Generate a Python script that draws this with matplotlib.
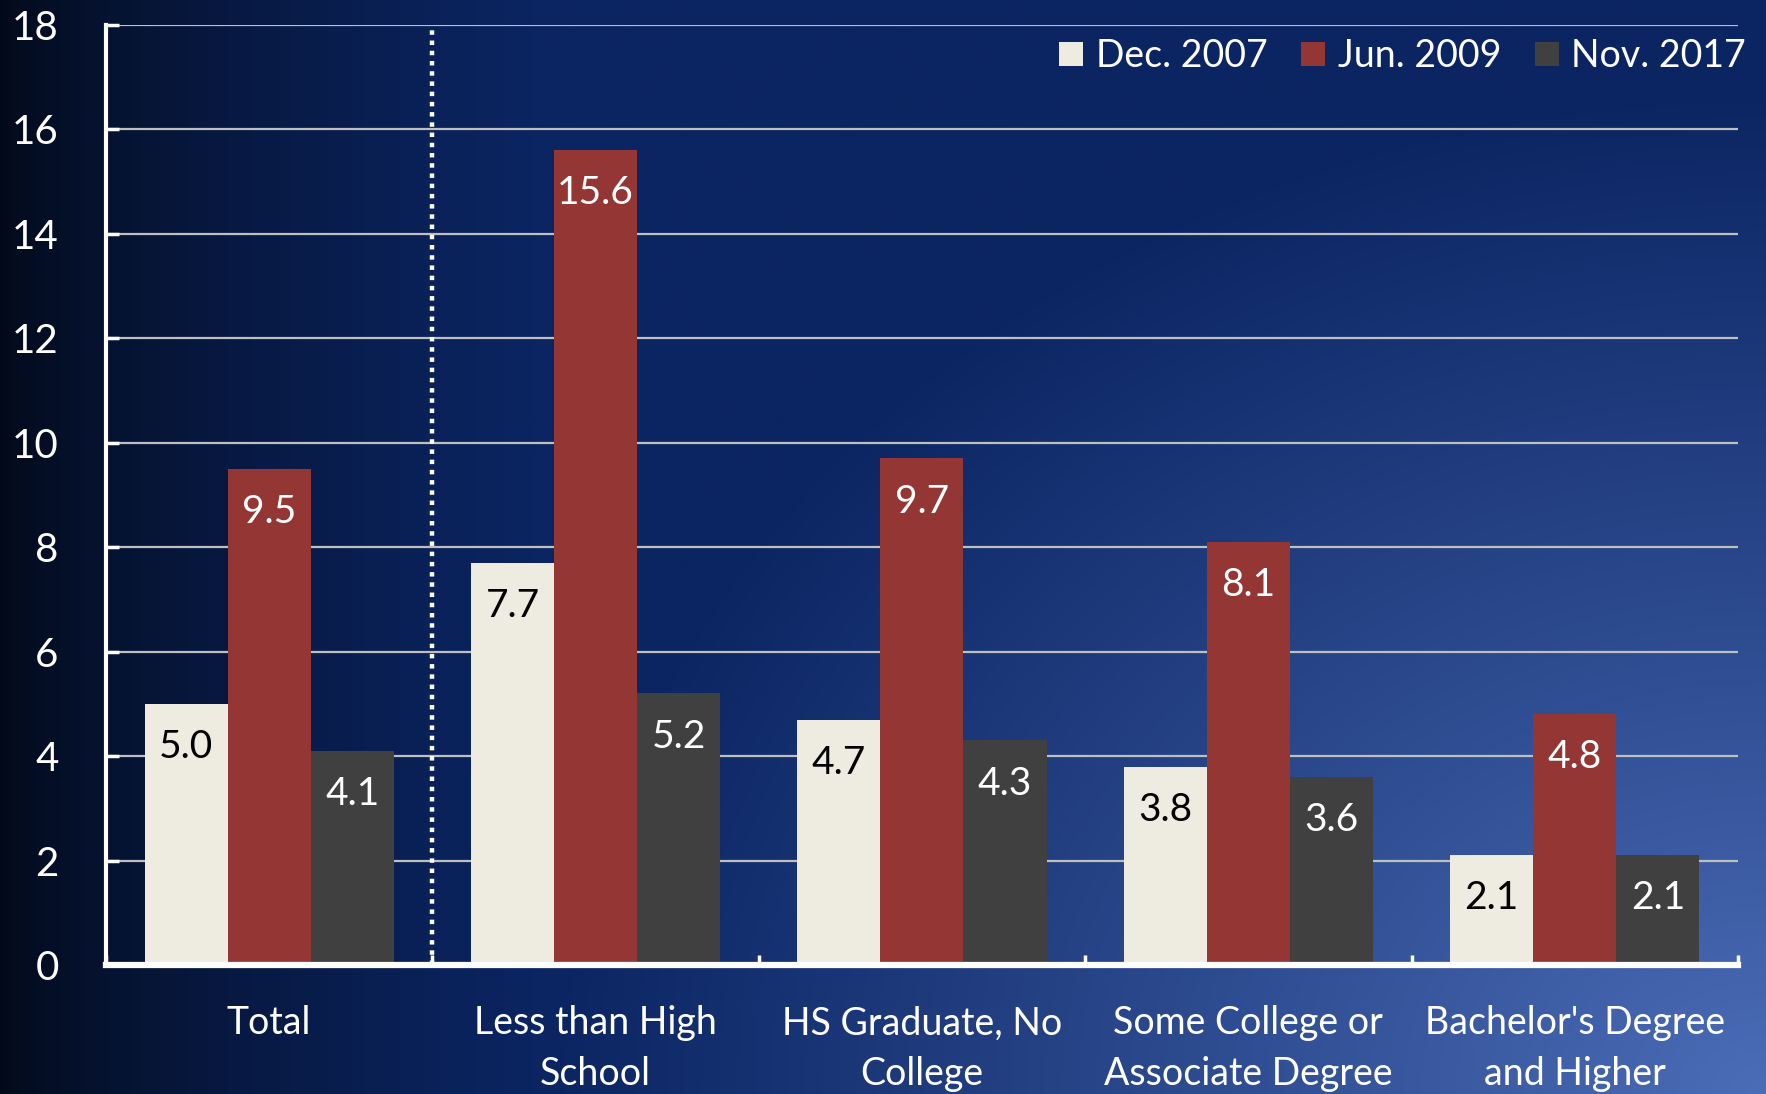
import numpy as np
import matplotlib
matplotlib.use("Agg")
import matplotlib.pyplot as plt

# ---- data ----
categories = ["Total", "Less than High\nSchool", "HS Graduate, No\nCollege",
              "Some College or\nAssociate Degree", "Bachelor's Degree\nand Higher"]
series_names = ["Dec. 2007", "Jun. 2009", "Nov. 2017"]
dec_2007 = [5.0, 7.7, 4.7, 3.8, 2.1]
jun_2009 = [9.5, 15.6, 9.7, 8.1, 4.8]
nov_2017 = [4.1, 5.2, 4.3, 3.6, 2.1]
yticks = [0, 2, 4, 6, 8, 10, 12, 14, 16, 18]

colors = ["#EEEBE0", "#943634", "#404040"]
label_colors = ["black", "white", "white"]

FONT = ["Lato", "DejaVu Sans"]
plt.rcParams["font.family"] = FONT

fig = plt.figure(figsize=(17.66, 10.94), dpi=100)

# ---- background gradient ----
bg = fig.add_axes([0, 0, 1, 1], zorder=-5)
W, H = 442, 274
u = np.linspace(0, 1, W)[None, :]
v = np.linspace(0, 1, H)[:, None]
base = np.array([11, 37, 98]) / 255
light = np.array([75, 108, 183]) / 255
d = np.sqrt(((1 - u) / 0.75) ** 2 + ((1 - v) / 1.0) ** 2)
t = np.clip(1 - d / 0.92, 0, 1)
col = base[None, None, :] + t[..., None] * (light - base)[None, None, :]
L = 0.25 + 0.75 * np.clip(u / 0.3, 0, 1) ** 0.7
col = np.clip(col * L[..., None], 0, 1)
bg.imshow(col, extent=[0, 1, 0, 1], aspect="auto", origin="upper", interpolation="bilinear")
bg.set_axis_off()

# ---- main axes ----
ax = fig.add_axes([0.0600, 0.1179, 0.9241, 0.8592])
ax.patch.set_alpha(0)

x = np.arange(len(categories))
w = 0.2545
series = [dec_2007, jun_2009, nov_2017]
for i, (vals, name) in enumerate(zip(series, series_names)):
    xs = x + (i - 1) * w
    ax.bar(xs, vals, width=w, color=colors[i], label=name, zorder=3)
    for xi, val in zip(xs, vals):
        ax.annotate(f"{val:.1f}", xy=(xi, val), xytext=(0, -31), textcoords="offset points",
                    ha="center", va="center", fontsize=28, color=label_colors[i], zorder=4)

ax.set_xlim(-0.5, len(categories) - 0.5)
ax.set_ylim(0, 18)
ax.set_yticks(yticks)
ax.yaxis.grid(True, color="#BFBFBF", linewidth=1.6)
ax.set_axisbelow(True)

for s in ["top", "right"]:
    ax.spines[s].set_visible(False)
ax.spines["left"].set_color("white")
ax.spines["left"].set_linewidth(3)
ax.spines["bottom"].set_color("white")
ax.spines["bottom"].set_linewidth(4.5)
ax.spines["bottom"].set_zorder(5)

ax.tick_params(axis="y", direction="in", length=9.5, width=2.5, color="white",
               labelcolor="white", labelsize=29, pad=34)

ax.set_xticks(np.arange(len(categories) + 1) - 0.5)
ax.set_xticklabels([])
ax.set_xticks(x, minor=True)
ax.set_xticklabels(categories, minor=True)
ax.tick_params(axis="x", which="major", direction="in", length=7, width=2.5, color="white")
ax.tick_params(axis="x", which="minor", length=0, labelcolor="white", labelsize=27, pad=29)
for lbl in ax.get_xticklabels(minor=True):
    lbl.set_linespacing(1.5)

# dotted separator after "Total"
ax.axvline(0.5, color="white", linewidth=3.2, linestyle=(0, (1.0, 1.3)), zorder=2)

leg = ax.legend(ncol=3, loc="upper right", bbox_to_anchor=(1.005, 0.986), frameon=False,
                fontsize=27, handlelength=0.64, handleheight=0.64, handletextpad=0.33,
                columnspacing=0.9, borderaxespad=0, borderpad=0)
for txt in leg.get_texts():
    txt.set_color("white")

fig.savefig("out.png", dpi=100)
